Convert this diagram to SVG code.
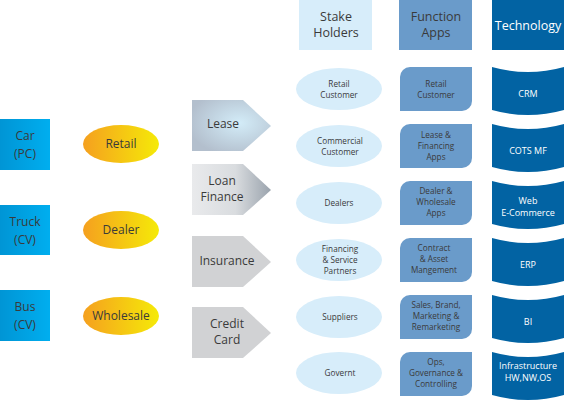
<svg xmlns="http://www.w3.org/2000/svg" width="564" height="402" viewBox="0 0 564 402">
<defs>
<linearGradient id="gBlue" x1="0" y1="0" x2="1" y2="0"><stop offset="0" stop-color="#0095d5"/><stop offset="1" stop-color="#00aeef"/></linearGradient>
<linearGradient id="gOrange" x1="0" y1="0" x2="1" y2="0"><stop offset="0" stop-color="#f5a01f"/><stop offset="1" stop-color="#f5ea08"/></linearGradient>
<radialGradient id="gLease" cx="0.6" cy="0.45" r="0.65"><stop offset="0" stop-color="#d3ecf8"/><stop offset="1" stop-color="#b3bfcd"/></radialGradient>
<linearGradient id="gLoan" x1="0" y1="0" x2="1" y2="0"><stop offset="0" stop-color="#e9eaec"/><stop offset="0.55" stop-color="#d9dcdf"/><stop offset="1" stop-color="#9aa3ad"/></linearGradient>
<style>
text{font-family:"Open Sans","DejaVu Sans",sans-serif;fill:#3a3a3a;text-anchor:middle}
.big{font-size:12px}
.hd{font-size:12.5px}
.sm{font-size:8.2px}
.tt{font-size:9px;fill:#ffffff}
.src{fill:url(#gBlue)}
.chan{fill:url(#gOrange)}
.stk{fill:#d7edfa}
.app{fill:#6a9bca}
.tech{fill:#0263a3}
.grey{fill:#d1d2d4}
</style>
</defs>
<g id="connectors"></g>

<g id="car"><rect class="src" x="0" y="119" width="50" height="51"/><text class="big" x="25" y="140">Car</text><text class="big" x="25" y="158">(PC)</text></g>
<g id="truck"><rect class="src" x="0" y="205" width="50" height="50"/><text class="big" x="25" y="226">Truck</text><text class="big" x="25" y="244">(CV)</text></g>
<g id="bus"><rect class="src" x="0" y="290" width="50" height="51"/><text class="big" x="25" y="311">Bus</text><text class="big" x="25" y="329">(CV)</text></g>

<g id="retail"><ellipse class="chan" cx="121" cy="144" rx="38" ry="19"/><text class="big" x="121" y="148">Retail</text></g>
<g id="dealer"><ellipse class="chan" cx="121" cy="230" rx="38" ry="19"/><text class="big" x="121" y="234">Dealer</text></g>
<g id="wholesale"><ellipse class="chan" cx="121" cy="316" rx="38" ry="19"/><text class="big" x="121" y="320">Wholesale</text></g>

<g id="lease"><polygon points="192,100 243,100 271,126 243,151 192,151" fill="url(#gLease)"/><text class="big" x="223" y="128">Lease</text></g>
<g id="loan"><polygon points="192,164 243,164 271,190 243,215 192,215" fill="url(#gLoan)"/><text class="big" x="222" y="185">Loan</text><text class="big" x="222" y="201">Finance</text></g>
<g id="insurance"><polygon class="grey" points="192,236 243,236 271,262 243,287 192,287"/><text class="big" x="227" y="265">Insurance</text></g>
<g id="credit"><polygon class="grey" points="192,307 243,307 271,333 243,358 192,358"/><text class="big" x="227" y="328">Credit</text><text class="big" x="227" y="344">Card</text></g>

<g id="h-stake"><rect class="stk" x="299" y="0" width="73" height="50"/><text class="hd" x="336" y="21">Stake</text><text class="hd" x="336" y="37">Holders</text></g>
<g id="h-func"><rect class="app" x="399" y="0" width="73" height="50"/><text class="hd" x="436" y="21">Function</text><text class="hd" x="436" y="37">Apps</text></g>
<g id="h-tech"><rect class="tech" x="492" y="0" width="72" height="50"/><text class="hd" style="fill:#ffffff" x="528" y="30">Technology</text></g>

<g id="s1"><ellipse class="stk" cx="339" cy="89" rx="43" ry="21"/><text class="sm" x="339" y="87">Retail</text><text class="sm" x="339" y="98">Customer</text></g>
<g id="s2"><ellipse class="stk" cx="339" cy="146" rx="43" ry="21"/><text class="sm" x="340" y="144">Commercial</text><text class="sm" x="340" y="155">Customer</text></g>
<g id="s3"><ellipse class="stk" cx="339" cy="203" rx="43" ry="21"/><text class="sm" x="339" y="206">Dealers</text></g>
<g id="s4"><ellipse class="stk" cx="339" cy="260" rx="43" ry="21"/><text class="sm" x="340" y="252">Financing</text><text class="sm" x="340" y="263">&amp; Service</text><text class="sm" x="340" y="274">Partners</text></g>
<g id="s5"><ellipse class="stk" cx="339" cy="317" rx="43" ry="21"/><text class="sm" x="340" y="320">Suppliers</text></g>
<g id="s6"><ellipse class="stk" cx="339" cy="373" rx="43" ry="21"/><text class="sm" x="340" y="376">Governt</text></g>

<g id="f1"><path class="app" d="M410,67 H472 V101 A10,10 0 0 1 462,111 H400 V77 A10,10 0 0 1 410,67 Z"/><text class="sm" x="436" y="87">Retail</text><text class="sm" x="436" y="98">Customer</text></g>
<g id="f2"><path class="app" d="M410,124 H472 V158 A10,10 0 0 1 462,168 H400 V134 A10,10 0 0 1 410,124 Z"/><text class="sm" x="436" y="138">Lease &amp;</text><text class="sm" x="436" y="149">Financing</text><text class="sm" x="436" y="160">Apps</text></g>
<g id="f3"><path class="app" d="M410,181 H472 V215 A10,10 0 0 1 462,225 H400 V191 A10,10 0 0 1 410,181 Z"/><text class="sm" x="436" y="194">Dealer &amp;</text><text class="sm" x="436" y="205">Wholesale</text><text class="sm" x="436" y="216">Apps</text></g>
<g id="f4"><path class="app" d="M410,238 H472 V272 A10,10 0 0 1 462,282 H400 V248 A10,10 0 0 1 410,238 Z"/><text class="sm" x="434" y="251">Contract</text><text class="sm" x="434" y="262">&amp; Asset</text><text class="sm" x="434" y="273">Mangement</text></g>
<g id="f5"><path class="app" d="M410,295 H472 V329 A10,10 0 0 1 462,339 H400 V305 A10,10 0 0 1 410,295 Z"/><text class="sm" x="436" y="308">Sales, Brand,</text><text class="sm" x="436" y="319">Marketing &amp;</text><text class="sm" x="436" y="330">Remarketing</text></g>
<g id="f6"><path class="app" d="M410,352 H472 V386 A10,10 0 0 1 462,396 H400 V362 A10,10 0 0 1 410,352 Z"/><text class="sm" x="436" y="365">Ops,</text><text class="sm" x="436" y="376">Governance &amp;</text><text class="sm" x="436" y="387">Controlling</text></g>

<g id="t1"><path class="tech" d="M492,67 Q528,77 564,67 V110 Q528,120 492,110 Z"/><text class="tt" x="528" y="97">CRM</text></g>
<g id="t2"><path class="tech" d="M492,124 Q528,134 564,124 V167 Q528,177 492,167 Z"/><text class="tt" x="528" y="154">COTS MF</text></g>
<g id="t3"><path class="tech" d="M492,181 Q528,191 564,181 V224 Q528,234 492,224 Z"/><text class="tt" x="528" y="204">Web</text><text class="tt" x="528" y="216">E-Commerce</text></g>
<g id="t4"><path class="tech" d="M492,238 Q528,248 564,238 V281 Q528,291 492,281 Z"/><text class="tt" x="528" y="268">ERP</text></g>
<g id="t5"><path class="tech" d="M492,295 Q528,305 564,295 V338 Q528,348 492,338 Z"/><text class="tt" x="528" y="325">BI</text></g>
<g id="t6"><path class="tech" d="M492,352 Q528,362 564,352 V395 Q528,405 492,395 Z"/><text class="tt" x="528" y="369">Infrastructure</text><text class="tt" x="528" y="381">HW,NW,OS</text></g>
</svg>
